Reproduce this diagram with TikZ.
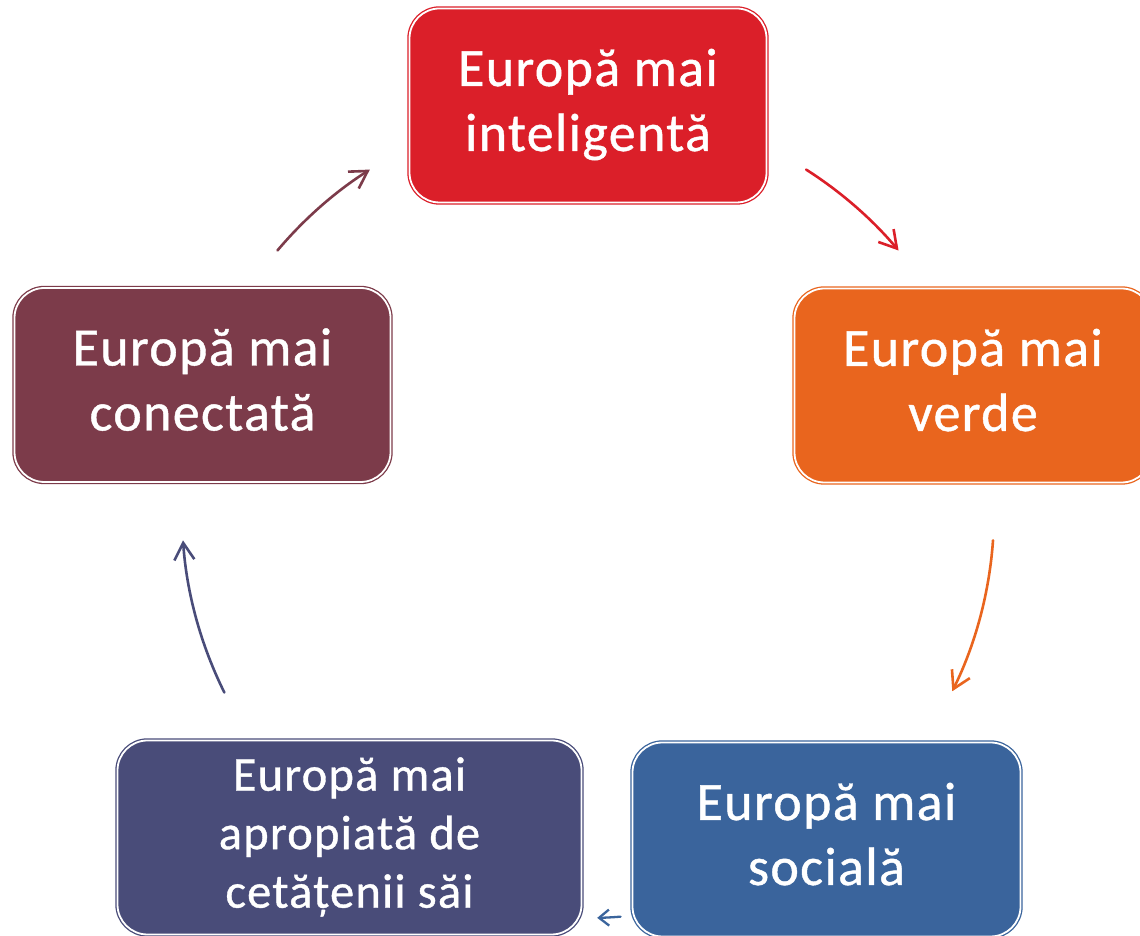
\documentclass[tikz,border=0pt]{standalone}
\usepackage{fontspec}
\setmainfont{Carlito}[FakeBold=0.8,LetterSpace=2.5]
\usetikzlibrary{arrows.meta}
\definecolor{cred}{RGB}{219,31,41}
\definecolor{corange}{RGB}{233,101,30}
\definecolor{cblue}{RGB}{58,100,156}
\definecolor{cpurple}{RGB}{73,76,121}
\definecolor{cmaroon}{RGB}{124,59,74}
\tikzset{
  box/.style={rounded corners=30pt, draw=#1, fill=#1, double=white,
    double distance=1.8pt, line width=1.3pt, text=white, align=center,
    inner sep=0pt, minimum height=194pt,
    font=\fontsize{54}{65}\selectfont},
  conn/.style={draw=#1, line width=2.6pt, line cap=round,
    -{Straight Barb[length=17pt,width=20pt,line width=2.6pt]}},
  connsmall/.style={draw=#1, line width=2.3pt, line cap=round,
    -{Straight Barb[length=10pt,width=16pt,line width=2.3pt]}}
}
\begin{document}
\begin{tikzpicture}[x=1pt,y=1pt]
\useasboundingbox (0,0) rectangle (1140,936);
% boxes
\node[box=cred, minimum width=357pt] (red) at (588,830.5)
  {\strut Europă mai\\\strut inteligentă};
\node[box=corange, minimum width=357pt] (orange) at (973,550.5)
  {\strut Europă mai\\\strut verde};
\node[box=cblue, minimum width=388pt] (blue) at (826.5,96.5)
  {\strut Europă mai\\\strut socială};
\node[box=cpurple, minimum width=464pt, font=\fontsize{48.5}{58.5}\selectfont] (purple) at (349.5,98.5)
  {\strut Europă mai\\\strut apropiată de\\\strut cetățenii săi};
\node[box=cmaroon, minimum width=376pt] (maroon) at (202.5,551)
  {\strut Europă mai\\\strut conectată};
% connectors on the cycle circle
\coordinate (ctr) at (588,424);
\coordinate (r1) at ([shift={(57.5:406pt)}]ctr);
\coordinate (o1) at ([shift={(-4:406pt)}]ctr);
\coordinate (b1) at ([shift={(-85.4:406pt)}]ctr);
\coordinate (p1) at ([shift={(206.4:406pt)}]ctr);
\coordinate (m1) at ([shift={(139.9:406pt)}]ctr);
\draw[conn=cred] (r1) arc[start angle=57.5, end angle=40.1, radius=406pt];
\draw[conn=corange] (o1) arc[start angle=-4, end angle=-26.2, radius=406pt];
\draw[connsmall=cblue] (b1) arc[start angle=-85.4, end angle=-88.7, radius=406pt];
\draw[conn=cpurple] (p1) arc[start angle=206.4, end angle=184, radius=406pt];
\draw[conn=cmaroon] (m1) arc[start angle=139.9, end angle=122.5, radius=406pt];
\end{tikzpicture}
\end{document}
